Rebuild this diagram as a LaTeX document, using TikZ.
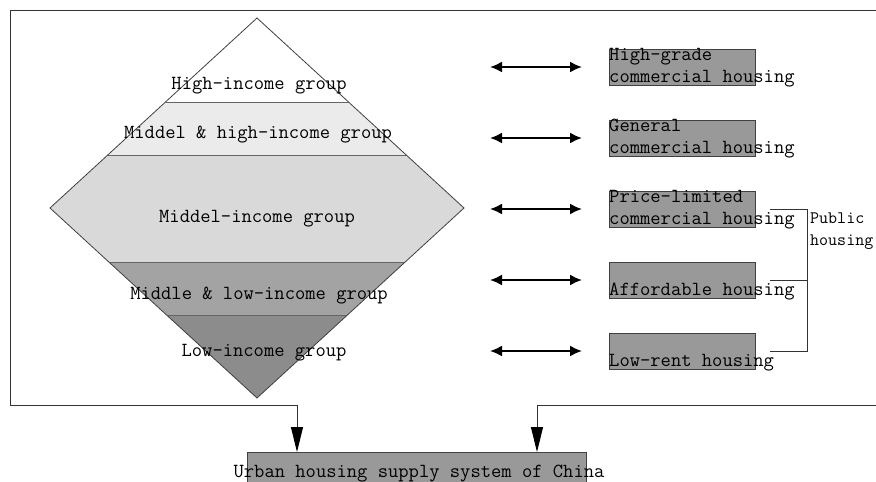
\documentclass[tikz,border=0pt]{standalone}
\usetikzlibrary{arrows.meta}
\definecolor{band2}{HTML}{EBEBEB}
\definecolor{band3}{HTML}{D9D9D9}
\definecolor{band4}{HTML}{A3A3A3}
\definecolor{band5}{HTML}{8C8C8C}
\definecolor{boxgray}{HTML}{999999}
\tikzset{
  grp/.style={font=\fontsize{20}{22}\selectfont\ttfamily,inner sep=0pt,anchor=base},
  htext/.style={font=\fontsize{20}{22}\selectfont\ttfamily,inner sep=0pt,align=left,anchor=south west},
  hbox/.style={fill=boxgray,draw=black!75,line width=.8pt,minimum width=146pt,minimum height=36pt,anchor=north west,inner sep=0pt},
  harrow/.style={line width=2pt,{Latex[length=12pt,width=11pt]}-{Latex[length=12pt,width=11pt]}},
  frame/.style={line width=1pt,black!80},
  downtip/.style={-{Triangle[length=25pt,width=12pt,black]}},
  brk/.style={line width=.8pt,black!80}
}
\begin{document}
\begin{tikzpicture}[x=1pt,y=-1pt,>=latex]
\useasboundingbox (0,0) rectangle (876,482);
\fill[white] (0,0) rectangle (876,482);
% income groups
\begin{scope}
\clip (257,18)--(464,208)--(257,398)--(50,208)--cycle;
\foreach \ya/\yb/\col in {18/102/white,102/155/band2,155/262/band3,262/315/band4,315/398/band5}
  \fill[\col] (40,\ya) rectangle (480,\yb);
\end{scope}
\foreach \y/\xa/\xb in {102/166/348,155/108/406,262/109/405,315/167/347}
  \draw[black!60,line width=.8pt] (\xa,\y)--(\xb,\y);
\draw[black!75,line width=.8pt] (257,18)--(464,208)--(257,398)--(50,208)--cycle;
\foreach \n/\x/\y/\t in {g1/259/89/High-income group,g2/258/138/Middel \& high-income group,
  g3/257/222/Middel-income group,g4/259/299/Middle \& low-income group,g5/264/356/Low-income group}
  \node[grp] (\n) at (\x,\y) {\t};
% housing
\foreach \i/\y in {1/49,2/120,3/191,4/262,5/333}
{
  \node[hbox] (h\i) at (609,\y) {};
  \coordinate (al\i) at (490,\y+18);
  \coordinate (ar\i) at (582,\y+18);
  \draw[harrow] (al\i)--(ar\i);
}
\node[htext] (t1) at ([yshift=-1.5pt]h1.south west) {High-grade\\commercial housing};
\node[htext] (t2) at ([yshift=-1.5pt]h2.south west) {General\\commercial housing};
\node[htext] (t3) at ([yshift=-1.5pt]h3.south west) {Price-limited\\commercial housing};
\node[htext] (t4) at ([yshift=-1.5pt]h4.south west) {Affordable housing};
\node[htext] (t5) at ([yshift=-1.5pt]h5.south west) {Low-rent housing};
\draw[brk] ([xshift=14pt]h3.east) -| ([xshift=52pt]h5.east) -- ([xshift=14pt]h5.east);
\draw[brk] ([xshift=14pt]h4.east) -- ([xshift=52pt]h4.east);
\node[htext,anchor=base west,font=\fontsize{17.5}{22}\selectfont\ttfamily] (pub) at (810,245) {Public\\housing};
% supply system
\node[hbox,minimum width=339pt,minimum height=40pt] (sys) at (247,452) {};
\node[grp] (syst) at (419,477) {Urban housing supply system of China};
\draw[frame,downtip] (880,10) -- (10,10) -- (10,405) -| ([xshift=50pt]sys.north west);
\draw[frame,downtip] (880,405) -| ([xshift=290pt]sys.north west);
\end{tikzpicture}
\end{document}
